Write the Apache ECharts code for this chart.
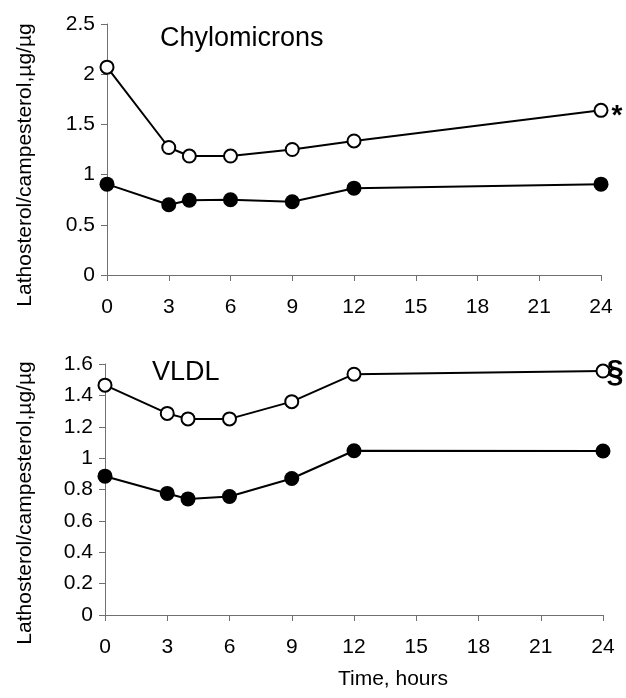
<!DOCTYPE html>
<html>
<head>
<meta charset="utf-8">
<script src="https://cdn.jsdelivr.net/npm/echarts@6/dist/echarts.min.js"></script>
<style>
  html, body { margin: 0; padding: 0; background: #fff; }
  #chart { width: 626px; height: 698px; }
</style>
</head>
<body>
<div id="chart"></div>
<script>
// time points (hours)
var hours = [0, 3, 4, 6, 9, 12, 24];

// Chylomicrons
var chyloOpen = [2.07, 1.27, 1.185, 1.185, 1.25, 1.335, 1.64];
var chyloFilled = [0.905, 0.70, 0.745, 0.75, 0.73, 0.865, 0.905];

// VLDL
var vldlOpen = [1.465, 1.285, 1.25, 1.25, 1.36, 1.535, 1.555];
var vldlFilled = [0.885, 0.775, 0.74, 0.755, 0.87, 1.047, 1.045];

var font = "'Liberation Sans', Arial, sans-serif";
var yLabel = "Lathosterol/campesterol,µg/µg";

function pairs(vals, mark, markStyle) {
	return vals.map(function (v, i) {
		if (mark && i === vals.length - 1) {
			return {
				value: [hours[i], v],
				label: Object.assign({ show: true, formatter: mark, position: "right", color: "#000", fontFamily: font, fontWeight: "bold" }, markStyle)
			};
		}
		return [hours[i], v];
	});
}

function lineSeries(idx, vals, open, mark, markStyle) {
	return {
		type: "line",
		xAxisIndex: idx,
		yAxisIndex: idx,
		data: pairs(vals, mark, markStyle),
		symbol: "circle",
		symbolSize: open ? 13 : 15,
		showAllSymbol: true,
		lineStyle: { color: "#000", width: 2 },
		itemStyle: open
			? { color: "#fff", borderColor: "#000", borderWidth: 2 }
			: { color: "#000", borderColor: "#000", borderWidth: 0 },
		z: open ? 3 : 2,
		animation: false
	};
}

var axisCommon = {
	axisLine: { show: true, lineStyle: { color: "#707070", width: 1 } },
	axisTick: { show: true, inside: false, length: 6, lineStyle: { color: "#707070", width: 1 } },
	splitLine: { show: false },
	axisLabel: { color: "#000", fontSize: 21, fontFamily: font }
};

function xAxis(idx) {
	return Object.assign({}, axisCommon, {
		type: "value",
		gridIndex: idx,
		min: 0,
		max: 24,
		interval: 3,
		axisLabel: Object.assign({}, axisCommon.axisLabel, { margin: 22 })
	});
}

function yAxis(idx, max, interval) {
	return Object.assign({}, axisCommon, {
		type: "value",
		gridIndex: idx,
		min: 0,
		max: max,
		interval: interval,
		axisLabel: Object.assign({}, axisCommon.axisLabel, { margin: 12 })
	});
}

var myChart = echarts.init(document.getElementById("chart"));

var option = {
	backgroundColor: "#fff",
	animation: false,
	grid: [
		{ left: 107, right: 25, top: 24, height: 251 },
		{ left: 105, right: 23, top: 364, height: 251 }
	],
	xAxis: [xAxis(0), xAxis(1)],
	yAxis: [yAxis(0, 2.5, 0.5), yAxis(1, 1.6, 0.2)],
	series: [
		lineSeries(0, chyloFilled, false),
		lineSeries(0, chyloOpen, true, "*", { fontSize: 28, distance: 3, offset: [0, 6] }),
		lineSeries(1, vldlFilled, false),
		lineSeries(1, vldlOpen, true, "§", { fontSize: 31, distance: -4, offset: [0, 2] })
	],
	graphic: [
		{ type: "text", x: 160, y: 39, style: { text: "Chylomicrons", font: "27px " + font, fill: "#000", textVerticalAlign: "middle" } },
		{ type: "text", x: 152, y: 373, style: { text: "VLDL", font: "27px " + font, fill: "#000", textVerticalAlign: "middle" } },
		{ type: "text", x: 25, y: 165, rotation: Math.PI / 2, style: { text: yLabel, font: "21px " + font, fill: "#000", textAlign: "center", textVerticalAlign: "middle" } },
		{ type: "text", x: 25, y: 503, rotation: Math.PI / 2, style: { text: yLabel, font: "21px " + font, fill: "#000", textAlign: "center", textVerticalAlign: "middle" } },
		{ type: "text", x: 393, y: 679, style: { text: "Time, hours", font: "21px " + font, fill: "#000", textAlign: "center", textVerticalAlign: "middle" } }
	]
};

myChart.setOption(option);
</script>
</body>
</html>
